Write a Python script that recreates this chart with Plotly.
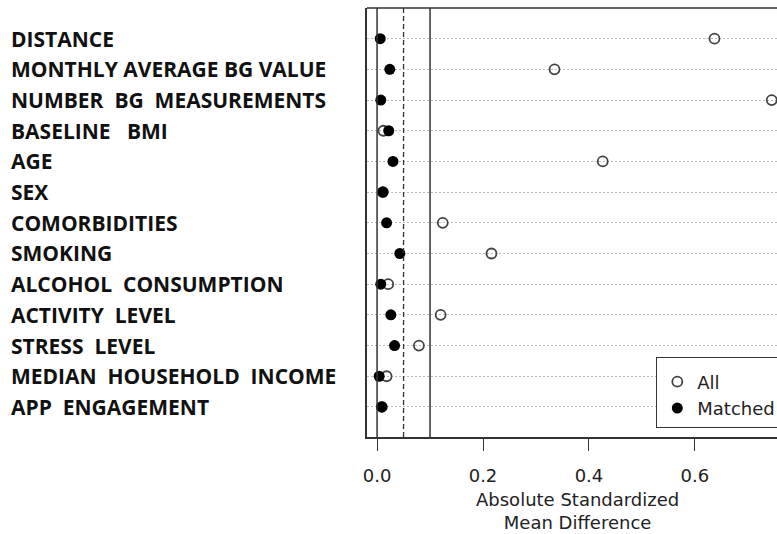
import plotly.graph_objects as go

covariates = ["DISTANCE", "MONTHLY AVERAGE BG VALUE", "NUMBER  BG  MEASUREMENTS",
              "BASELINE   BMI", "AGE", "SEX", "COMORBIDITIES", "SMOKING",
              "ALCOHOL  CONSUMPTION", "ACTIVITY  LEVEL", "STRESS  LEVEL",
              "MEDIAN  HOUSEHOLD  INCOME", "APP  ENGAGEMENT"]
smd_all = [0.637, 0.335, 0.745, 0.012, 0.426, 0.011, 0.124, 0.216, 0.021, 0.120, 0.079, 0.018, 0.009]
smd_matched = [0.006, 0.024, 0.007, 0.022, 0.030, 0.011, 0.018, 0.043, 0.007, 0.026, 0.033, 0.004, 0.009]
ref_solid = [0.0, 0.1]
ref_dashed = [0.05]
x_ticks = [0.0, 0.2, 0.4, 0.6]
x_tick_labels = ["0.0", "0.2", "0.4", "0.6"]

n = len(covariates)
ypos = [n - 1 - i for i in range(n)]

fig = go.Figure()
fig.add_trace(go.Scatter(x=smd_all, y=ypos, mode="markers", name="All",
                         marker=dict(symbol="circle-open", size=10, color="#444",
                                     line=dict(width=1.8, color="#444")),
                         cliponaxis=False))
fig.add_trace(go.Scatter(x=smd_matched, y=ypos, mode="markers", name="Matched",
                         marker=dict(symbol="circle", size=11, color="black"),
                         cliponaxis=False))

for v in ref_solid:
    fig.add_shape(type="line", xref="x", yref="paper", x0=v, x1=v, y0=0, y1=1,
                  line=dict(color="#333", width=1.5))
for v in ref_dashed:
    fig.add_shape(type="line", xref="x", yref="paper", x0=v, x1=v, y0=0, y1=1,
                  line=dict(color="#333", width=1.3, dash="5px,3px"))
# top frame line
fig.add_shape(type="line", xref="paper", yref="paper", x0=0, x1=1, y0=1, y1=1,
              line=dict(color="#333", width=1.5))

for lab, y in zip(covariates, ypos):
    fig.add_annotation(text=lab, xref="paper", yref="y", x=(9 - 367) / 410, y=y,
                       xanchor="left", yanchor="middle", showarrow=False,
                       font=dict(family="Open Sans", size=21, color="#111", weight=700))

fig.add_annotation(text="Absolute Standardized<br>Mean Difference", xref="paper", yref="paper",
                   x=(577 - 367) / 410, y=-(511 - 437) / 429, xanchor="center", yanchor="middle",
                   showarrow=False,
                   font=dict(family="DejaVu Sans", size=18, color="#222"))

fig.update_layout(
    width=777, height=534,
    margin=dict(l=367, r=0, t=8, b=97, autoexpand=False),
    paper_bgcolor="white", plot_bgcolor="white",
    showlegend=True,
    legend=dict(x=(656 - 367) / 410, y=(437 - 357) / 429, xanchor="left", yanchor="top",
                bordercolor="#333", borderwidth=1.3, bgcolor="white",
                font=dict(family="DejaVu Sans", size=18, color="#222"),
                title=dict(text=" ", font=dict(size=4)),
                itemwidth=30, tracegroupgap=0),
    xaxis=dict(range=[-0.019, 0.755], tickvals=x_ticks, ticktext=x_tick_labels,
               showgrid=False, zeroline=False, showline=True, linecolor="#333", linewidth=1.5,
               ticks="outside", ticklen=12, tickwidth=1.3, tickcolor="#333",
               ticklabelstandoff=10,
               tickfont=dict(family="DejaVu Sans", size=18, color="#222")),
    yaxis=dict(range=[-0.98, 13.0], tickvals=ypos, showticklabels=False,
               showgrid=True, gridcolor="#bdbdbd", griddash="2px,2px", gridwidth=1,
               zeroline=False, showline=True, linecolor="#333", linewidth=1.5, ticks=""),
)

fig.write_html("out.html", config={"displayModeBar": False},
               post_script="document.body.style.margin='0px';")
